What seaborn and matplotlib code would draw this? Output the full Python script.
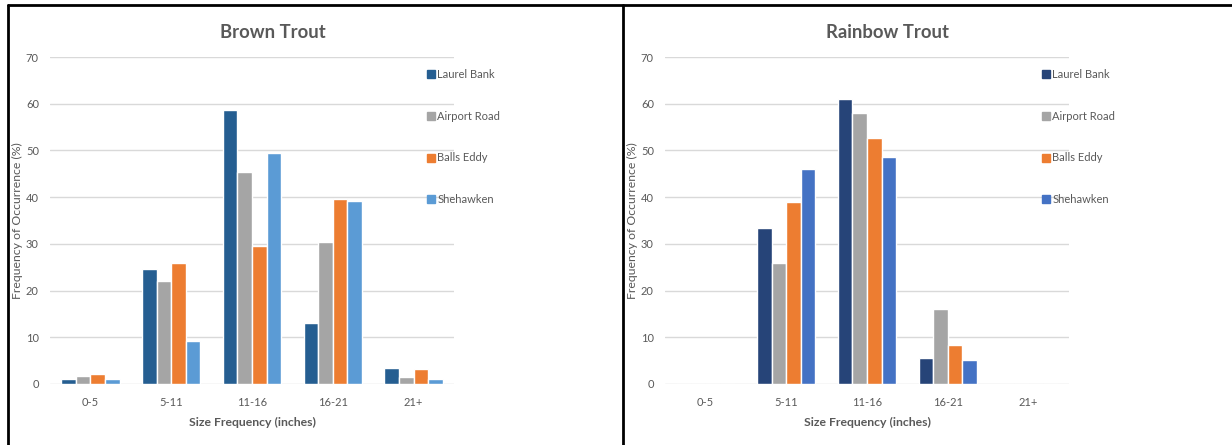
import matplotlib
matplotlib.use("Agg")
import matplotlib.pyplot as plt
from matplotlib.lines import Line2D
import seaborn as sns
import pandas as pd

sns.set_theme(style="white")
plt.rcParams["font.family"] = ["Lato", "DejaVu Sans"]

size_classes = ["0-5", "5-11", "11-16", "16-21", "21+"]
sites = ["Laurel Bank", "Airport Road", "Balls Eddy", "Shehawken"]

brown_laurel = [1.1, 24.6, 58.6, 13.1, 3.4]
brown_airport = [1.8, 22.1, 45.4, 30.4, 1.4]
brown_balls = [2.1, 25.9, 29.6, 39.6, 3.2]
brown_shehawken = [1.1, 9.1, 49.4, 39.1, 1.1]

rainbow_laurel = [0, 33.3, 61.1, 5.6, 0]
rainbow_airport = [0, 25.8, 58.0, 16.1, 0]
rainbow_balls = [0, 39.0, 52.6, 8.4, 0]
rainbow_shehawken = [0, 46.1, 48.6, 5.1, 0]

brown_colors = ["#255E91", "#A5A5A5", "#ED7D31", "#5B9BD5"]
rainbow_colors = ["#264478", "#A5A5A5", "#ED7D31", "#4472C4"]

TEXT = "#595959"
GRID = "#D9D9D9"


def long_table(series):
    rows = []
    for site, vals in zip(sites, series):
        for cls, v in zip(size_classes, vals):
            rows.append({"size": cls, "site": site, "freq": v})
    return pd.DataFrame(rows)


brown_df = long_table([brown_laurel, brown_airport, brown_balls, brown_shehawken])
rainbow_df = long_table([rainbow_laurel, rainbow_airport, rainbow_balls, rainbow_shehawken])

fig = plt.figure(figsize=(12.32, 4.45), dpi=100)
W, H = 1232, 445

panels = [
    ("Brown Trout", brown_df, brown_colors, 50),
    ("Rainbow Trout", rainbow_df, rainbow_colors, 665),
]

for title, df, colors, left_px in panels:
    ax = fig.add_axes([left_px / W, 1 - 384 / H, 404 / W, (384 - 57) / H])
    sns.barplot(data=df, x="size", y="freq", hue="site", hue_order=sites,
                order=size_classes, palette=colors, saturation=1,
                width=0.725, ax=ax, errorbar=None)
    ax.set_ylim(0, 70)
    ax.set_xlim(-0.5, 4.5)
    ax.set_yticks(range(0, 71, 10))
    ax.yaxis.grid(True, color=GRID, linewidth=1)
    ax.set_axisbelow(True)
    for s in ax.spines.values():
        s.set_visible(False)
    ax.tick_params(axis="both", length=0, labelsize=8, colors=TEXT)
    ax.tick_params(axis="y", pad=8)
    ax.tick_params(axis="x", pad=9)
    ax.set_xlabel("Size Frequency (inches)", fontsize=8.8, fontweight="bold",
                  color=TEXT)
    ax.xaxis.set_label_coords(0.5, -0.102)
    ax.set_ylabel("Frequency of Occurrence (%)", fontsize=8.8, color=TEXT)
    ax.yaxis.set_label_coords(-0.066, 0.5)
    ax.set_title(title, fontsize=13.3, fontweight="bold", color=TEXT,
                 x=0.551, y=1.0, pad=14)

    handles = [Line2D([0], [0], marker="s", linestyle="none", markersize=6,
                      markerfacecolor=c, markeredgecolor=c) for c in colors]
    ax.legend(handles, sites, frameon=False, loc="upper left",
              bbox_to_anchor=(0.923, 0.976), labelspacing=2.75,
              handlelength=0.6, handletextpad=0.3, fontsize=8,
              labelcolor=TEXT, borderaxespad=0)

# panel frames
frame_kw = dict(color="black", linewidth=2, transform=fig.transFigure,
                clip_on=False)
fig.add_artist(Line2D([8 / W, 1], [1 - 4.5 / H, 1 - 4.5 / H], **frame_kw))
fig.add_artist(Line2D([8 / W, 8 / W], [0, 1 - 4.5 / H], **frame_kw))
fig.add_artist(Line2D([623 / W, 623 / W], [0, 1 - 4.5 / H], **frame_kw))

fig.savefig("out.png", dpi=100, facecolor="white")
